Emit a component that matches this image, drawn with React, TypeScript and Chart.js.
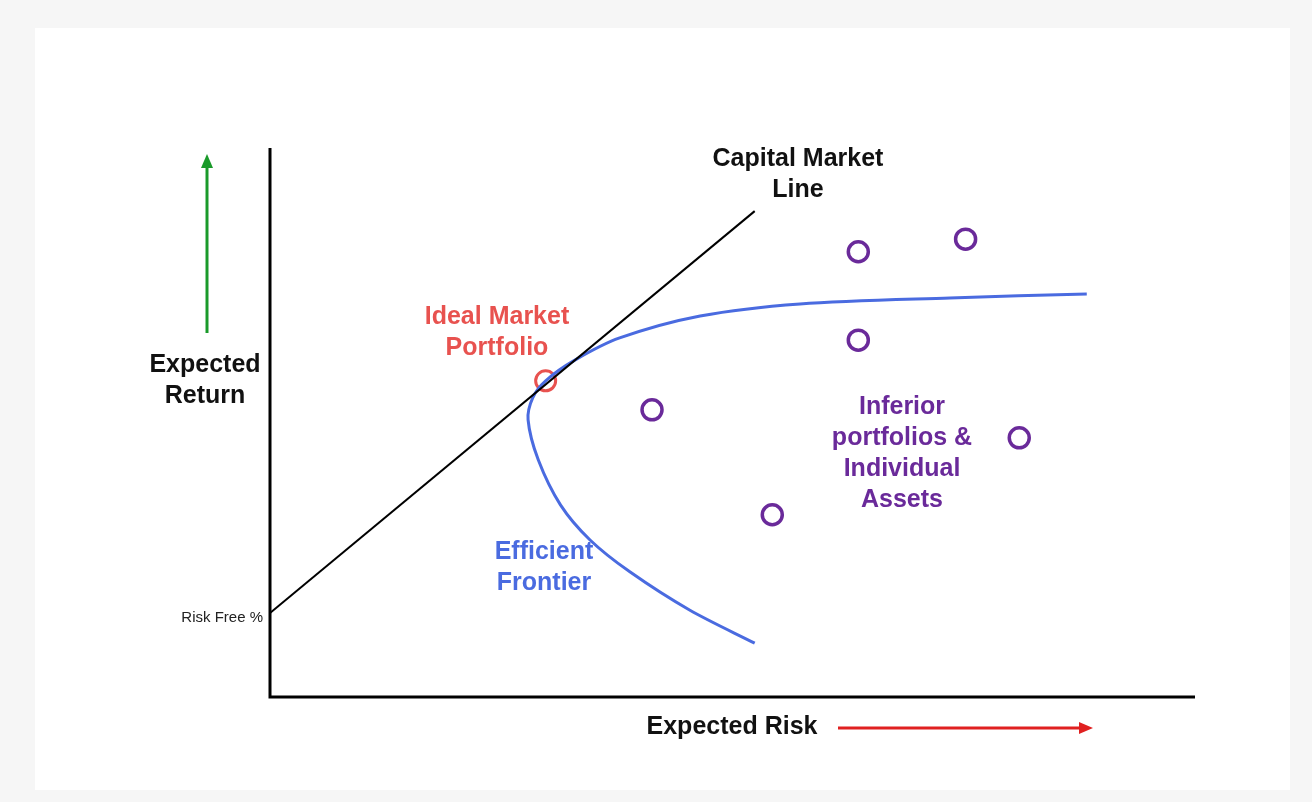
import { useEffect, useRef } from "react";
import { Chart, registerables } from "chart.js";

Chart.register(...registerables);

// Capital market line (risk, return)
const cmlRisk = [0, 52.4];
const cmlReturn = [15.3, 88.5];

// Efficient frontier, traced from bottom end, through the nose, to the upper end
const frontierRisk = [52.4, 45.4, 38.9, 34.6, 31.4, 29.0, 27.9, 28.4, 29.8, 33.0, 37.8, 46.5, 57.3, 73.5, 88.3];
const frontierReturn = [9.8, 15.8, 22.8, 28.6, 35.0, 43.2, 50.5, 54.5, 57.6, 61.4, 65.4, 69.4, 71.6, 72.7, 73.4];

// Ideal market portfolio
const idealRisk = [29.8];
const idealReturn = [57.6];

// Inferior portfolios & individual assets
const assetRisk = [63.6, 75.2, 63.6, 41.3, 81.0, 54.3];
const assetReturn = [81.1, 83.4, 65.0, 52.3, 47.2, 33.2];

const toPoints = (xs: number[], ys: number[]) => xs.map((x, i) => ({ x, y: ys[i] }));

const FONT = "'Liberation Sans', Arial, sans-serif";
const OX = 35;
const OY = 28;

const labelsPlugin = {
  id: "labels",
  afterDraw(chart: Chart) {
    const { ctx, chartArea } = chart;
    ctx.save();
    // axes
    ctx.strokeStyle = "#000";
    ctx.lineWidth = 3;
    ctx.beginPath();
    ctx.moveTo(chartArea.left, chartArea.top);
    ctx.lineTo(chartArea.left, chartArea.bottom);
    ctx.lineTo(chartArea.right, chartArea.bottom);
    ctx.stroke();

    const text = (lines: string[], x: number, y: number, color: string, size: number, bold = true, align: CanvasTextAlign = "center") => {
      ctx.fillStyle = color;
      ctx.font = `${bold ? "bold " : ""}${size}px ${FONT}`;
      ctx.textAlign = align;
      ctx.textBaseline = "middle";
      lines.forEach((l, i) => ctx.fillText(l, x - OX, y - OY + i * 31));
    };
    text(["Capital Market", "Line"], 798, 159, "#111", 25);
    text(["Ideal Market", "Portfolio"], 497, 317, "#e8524f", 25);
    text(["Efficient", "Frontier"], 544, 552, "#4a6be0", 25);
    text(["Inferior", "portfolios &", "Individual", "Assets"], 902, 407, "#6a2a9a", 25);
    text(["Expected", "Return"], 205, 365, "#111", 25);
    text(["Expected Risk"], 732, 727, "#111", 25);
    text(["Risk Free %"], 263, 618, "#222", 15, false, "right");

    // arrows
    const arrow = (x1: number, y1: number, x2: number, y2: number, color: string) => {
      x1 -= OX; x2 -= OX; y1 -= OY; y2 -= OY;
      ctx.strokeStyle = color;
      ctx.fillStyle = color;
      ctx.lineWidth = 3;
      const a = Math.atan2(y2 - y1, x2 - x1);
      ctx.beginPath();
      ctx.moveTo(x1, y1);
      ctx.lineTo(x2 - 10 * Math.cos(a), y2 - 10 * Math.sin(a));
      ctx.stroke();
      ctx.beginPath();
      ctx.moveTo(x2, y2);
      ctx.lineTo(x2 - 14 * Math.cos(a) + 6 * Math.sin(a), y2 - 14 * Math.sin(a) - 6 * Math.cos(a));
      ctx.lineTo(x2 - 14 * Math.cos(a) - 6 * Math.sin(a), y2 - 14 * Math.sin(a) + 6 * Math.cos(a));
      ctx.closePath();
      ctx.fill();
    };
    arrow(207, 333, 207, 154, "#1a9a2a");
    arrow(838, 728, 1093, 728, "#e02020");
    ctx.restore();
  },
};

export default function App() {
  const canvasRef = useRef<HTMLCanvasElement>(null);

  useEffect(() => {
    if (!canvasRef.current) return;
    const chart = new Chart(canvasRef.current, {
      type: "scatter",
      data: {
        datasets: [
          {
            data: toPoints(cmlRisk, cmlReturn),
            showLine: true,
            borderColor: "#000",
            borderWidth: 2,
            pointRadius: 0,
          },
          {
            data: toPoints(frontierRisk, frontierReturn),
            showLine: true,
            borderColor: "#4a6be0",
            borderWidth: 3,
            tension: 0.3,
            pointRadius: 0,
          },
          {
            data: toPoints(idealRisk, idealReturn),
            pointRadius: 10,
            pointBorderWidth: 3,
            borderColor: "#e8524f",
            backgroundColor: "rgba(255,255,255,0)",
          },
          {
            data: toPoints(assetRisk, assetReturn),
            pointRadius: 10,
            pointBorderWidth: 3.5,
            borderColor: "#6a2a9a",
            backgroundColor: "rgba(255,255,255,0)",
          },
        ],
      },
      options: {
        responsive: true,
        maintainAspectRatio: false,
        animation: false,
        layout: { padding: { left: 235, right: 95, top: 120, bottom: 93 } },
        scales: {
          x: { type: "linear", min: 0, max: 100, display: false },
          y: { type: "linear", min: 0, max: 100, display: false },
        },
        plugins: { legend: { display: false }, tooltip: { enabled: false } },
      },
      plugins: [labelsPlugin],
    });
    return () => chart.destroy();
  }, []);

  return (
    <div style={{ position: "fixed", inset: 0, background: "#f6f6f6" }}>
      <div style={{ position: "absolute", left: OX, top: OY, width: 1255, height: 762, background: "#fff" }}>
        <canvas ref={canvasRef}></canvas>
      </div>
    </div>
  );
}
